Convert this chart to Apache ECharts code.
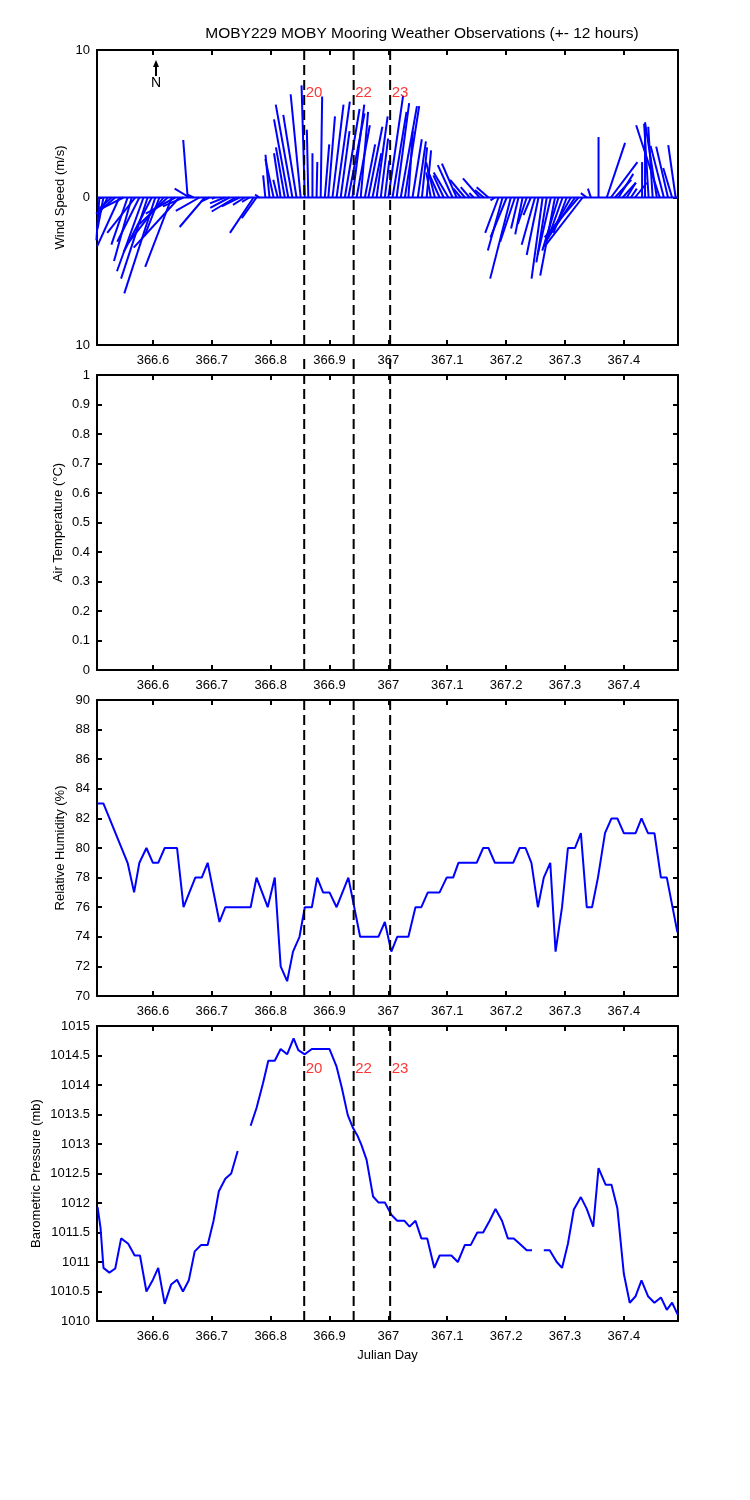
<!DOCTYPE html>
<html>
<head>
<meta charset="utf-8">
<title>MOBY229 MOBY Mooring Weather Observations</title>
<script src="https://cdn.jsdelivr.net/npm/echarts@6/dist/echarts.min.js"></script>
<style>
  html, body { margin: 0; padding: 0; background: #fff; }
  #chart { width: 750px; height: 1500px; }
</style>
</head>
<body>
<div id="chart"></div>
<script>
// wind sticks: base time (julian day), east (u) and north (v) components in m/s
var windTime = [
  366.509, 366.516, 366.523, 366.530, 366.536, 366.543, 366.550, 366.557, 366.564, 366.570,
  366.577, 366.584, 366.591, 366.598, 366.604, 366.611, 366.618, 366.625, 366.632, 366.638,
  366.645, 366.652, 366.659, 366.662, 366.669, 366.679, 366.688, 366.696, 366.705, 366.722,
  366.730, 366.740, 366.747, 366.756, 366.764, 366.771, 366.776, 366.781, 366.791, 366.798,
  366.805, 366.812, 366.817, 366.824, 366.830, 366.837, 366.844, 366.851, 366.858, 366.864,
  366.871, 366.878, 366.885, 366.892, 366.898, 366.905, 366.912, 366.919, 366.926, 366.932,
  366.939, 366.946, 366.953, 366.960, 366.966, 366.973, 366.980, 366.987, 366.994, 367.000,
  367.007, 367.014, 367.021, 367.028, 367.034, 367.041, 367.050, 367.057, 367.065, 367.072,
  367.079, 367.087, 367.094, 367.102, 367.109, 367.116, 367.123, 367.130, 367.138, 367.145,
  367.155, 367.162, 367.170, 367.181, 367.187, 367.194, 367.201, 367.208, 367.215, 367.221,
  367.228, 367.235, 367.242, 367.249, 367.255, 367.262, 367.269, 367.276, 367.283, 367.289,
  367.296, 367.303, 367.310, 367.317, 367.323, 367.330, 367.337, 367.344, 367.357, 367.371,
  367.378, 367.385, 367.391, 367.398, 367.405, 367.412, 367.419, 367.431, 367.436, 367.442,
  367.449, 367.456, 367.461, 367.468, 367.475, 367.482, 367.488
]
var windU = [
  -0.2, -0.4, -0.6, -0.9, -1.3, -1.5, -1.6, -1.1, -1.2, -1.9,
  -1.5, -1.8, -1.8, -1.9, -2.1, -1.0, -2.4, -1.9, -1.8, -2.0,
  -3.1, -1.4, -0.3, -1.0, -0.4, -1.6, -1.7, -0.6, -0.2, -1.0,
  -1.3, -1.6, -1.2, -0.8, -0.5, -1.6, -1.0, -0.3, -0.15, -0.27,
  -0.56, -0.3, -0.45, -0.6, -0.97, -1.13, -0.9, -0.68, -0.22, -0.1,
  0.0, 0.05, 0.1, 0.3, 0.45, 0.75, 0.9, 0.6, 1.0, 1.1,
  0.8, 0.9, 0.5, 0.7, 0.95, 0.6, 0.75, 0.5, 0.3, 1.0,
  0.95, 0.85, 1.1, 0.97, 0.3, 0.63, 0.55, 0.35, 0.3, -0.3,
  -0.6, -0.8, -0.7, -1.0, -1.0, -1.0, -0.5, -1.0, -0.6, -0.3,
  -1.13, -0.6, -0.8, -0.3, -0.9, -1.0, -1.1, -1.4, -1.0, -0.5,
  -0.5, -0.6, -0.5, -0.9, -0.8, -0.75, -0.7, -0.9, -1.0, -1.1,
  -1.0, -0.9, -1.4, -2.0, -2.3, -2.6, -0.4, -0.2, 0.0, 1.24,
  1.8, 1.1, 1.0, 0.9, 0.6, 0.4, 0.8, 0.0, 0.0, -0.3,
  -0.3, -0.8, -1.6, -0.9, -0.8, -0.6, -0.5
]
var windV = [
  -2.9, -2.1, -1.2, -0.8, -1.1, -3.3, -0.8, -3.2, -4.3, -2.4,
  -3.0, -5.0, -5.5, -3.7, -6.5, -2.6, -3.1, -1.8, -4.7, -1.1,
  -3.4, -0.6, 3.9, 0.6, 0.2, -0.9, -2.0, -0.3, -0.1, -0.4,
  -0.7, -0.95, -0.6, -0.5, -0.3, -2.4, -1.4, 0.2, 1.5, 2.9,
  2.6, 1.2, 3.0, 3.4, 5.3, 6.3, 5.6, 7.0, 7.6, 4.6,
  3.0, 2.4, 6.85, 3.6, 5.5, 6.3, 6.5, 4.5, 6.0, 5.7,
  6.3, 4.9, 5.8, 3.6, 4.8, 3.0, 5.5, 4.0, 2.5, 6.9,
  5.8, 6.4, 6.2, 6.2, 4.5, 3.95, 3.8, 3.4, 3.2, 1.7,
  2.4, 1.8, 1.5, 1.7, 2.2, 2.3, 0.6, 1.2, 0.7, 0.3,
  1.3, 0.5, 0.7, -0.2, -2.4, -3.6, -2.7, -5.5, -3.0, -2.1,
  -2.5, -1.8, -1.2, -3.2, -3.9, -5.5, -4.4, -3.9, -5.3, -3.6,
  -2.8, -2.4, -2.5, -3.0, -2.7, -3.35, 0.3, 0.6, 4.1, 3.7,
  2.4, 1.2, 1.6, 1.0, 1.0, 0.6, 1.0, 2.4, 5.0, 5.0,
  4.8, 5.1, 4.9, 3.5, 3.45, 2.0, 3.55
]

// relative humidity (%)
var humTime = [
  366.506, 366.516, 366.557, 366.568, 366.577, 366.589, 366.600, 366.609, 366.620, 366.641,
  366.652, 366.672, 366.683, 366.693, 366.713, 366.723, 366.766, 366.776, 366.795, 366.807,
  366.817, 366.828, 366.838, 366.849, 366.858, 366.870, 366.879, 366.889, 366.900, 366.912,
  366.932, 366.952, 366.983, 366.994, 367.005, 367.015, 367.034, 367.046, 367.056, 367.067,
  367.087, 367.099, 367.110, 367.119, 367.150, 367.161, 367.170, 367.181, 367.212, 367.223,
  367.233, 367.243, 367.254, 367.264, 367.275, 367.284, 367.295, 367.305, 367.317, 367.327,
  367.337, 367.346, 367.356, 367.368, 367.379, 367.389, 367.400, 367.420, 367.430, 367.441,
  367.452, 367.463, 367.473, 367.491
]
var humValue = [
  83, 83, 79, 77, 79, 80, 79, 79, 80, 80,
  76, 78, 78, 79, 75, 76, 76, 78, 76, 78,
  72, 71, 73, 74, 76, 76, 78, 77, 77, 76,
  78, 74, 74, 75, 73, 74, 74, 76, 76, 77,
  77, 78, 78, 79, 79, 80, 80, 79, 79, 80,
  80, 79, 76, 78, 79, 73, 76, 80, 80, 81,
  76, 76, 78, 81, 82, 82, 81, 81, 82, 81,
  81, 78, 78, 74.3
]

// barometric pressure (mb), null = missing
var presTime = [
  366.506, 366.511, 366.516, 366.526, 366.536, 366.546, 366.558, 366.569, 366.578, 366.589,
  366.600, 366.609, 366.620, 366.631, 366.641, 366.651, 366.661, 366.671, 366.682, 366.693,
  366.703, 366.712, 366.723, 366.733, 366.744, 366.755, 366.766, 366.776, 366.787, 366.796,
  366.807, 366.817, 366.828, 366.839, 366.847, 366.858, 366.870, 366.900, 366.912, 366.921,
  366.931, 366.940, 366.948, 366.954, 366.963, 366.974, 366.983, 366.994, 367.005, 367.015,
  367.027, 367.036, 367.046, 367.056, 367.066, 367.078, 367.087, 367.107, 367.118, 367.130,
  367.140, 367.151, 367.161, 367.172, 367.182, 367.193, 367.203, 367.213, 367.223, 367.235,
  367.244, 367.254, 367.264, 367.274, 367.286, 367.295, 367.305, 367.315, 367.327, 367.337,
  367.348, 367.357, 367.369, 367.379, 367.389, 367.400, 367.410, 367.420, 367.430, 367.441,
  367.452, 367.463, 367.473, 367.482, 367.492
]
var presValue = [
  1011.93, 1011.58, 1010.90, 1010.82, 1010.89, 1011.40, 1011.31, 1011.11, 1011.11, 1010.50,
  1010.70, 1010.90, 1010.29, 1010.62, 1010.70, 1010.50, 1010.69, 1011.18, 1011.29, 1011.29,
  1011.70, 1012.20, 1012.41, 1012.50, 1012.88, null, 1013.31, 1013.61, 1014.03, 1014.41,
  1014.41, 1014.61, 1014.52, 1014.79, 1014.59, 1014.52, 1014.61, 1014.61, 1014.31, 1013.95,
  1013.49, 1013.27, 1013.13, 1012.99, 1012.73, 1012.11, 1012.01, 1012.01, 1011.80, 1011.70,
  1011.70, 1011.60, 1011.70, 1011.40, 1011.40, 1010.90, 1011.11, 1011.11, 1011.00, 1011.29,
  1011.29, 1011.50, 1011.50, 1011.70, 1011.90, 1011.70, 1011.40, 1011.40, 1011.31, 1011.20,
  1011.20, null, 1011.20, 1011.20, 1011.00, 1010.90, 1011.31, 1011.89, 1012.10, 1011.90,
  1011.60, 1012.59, 1012.31, 1012.31, 1011.91, 1010.80, 1010.31, 1010.42, 1010.69, 1010.42,
  1010.31, 1010.40, 1010.19, 1010.31, 1010.10
]

// marked events (dashed lines)
var eventTimes = [366.857, 366.941, 367.003]
var eventLabels = ['20', '22', '23']

var FONT = '"Liberation Sans", Arial, Helvetica, sans-serif'
var BLUE = '#0000ff'
var X_MIN = 366.505
var X_MAX = 367.492

var panels = [
  { top: 50, height: 295, min: -10, max: 10, interval: 10, name: 'Wind Speed (m/s)', gap: 30, lineTop: 0 },
  { top: 375, height: 295, min: 0, max: 1, interval: 0.1, name: 'Air Temperature (°C)', gap: 32, lineTop: 16 },
  { top: 700, height: 296, min: 70, max: 90, interval: 2, name: 'Relative Humidity (%)', gap: 30, lineTop: 0 },
  { top: 1026, height: 295, min: 1010, max: 1015, interval: 0.5, name: 'Barometric Pressure (mb)', gap: 54, lineTop: 0 }
]

var axisLine = { show: true, onZero: false, lineStyle: { color: '#000', width: 2 } }
var axisTick = { show: true, inside: true, length: 5, lineStyle: { color: '#000', width: 2 } }

function numLabel (v) {
  return String(Math.round(v * 100) / 100)
}

var grid = []
var xAxis = []
var yAxis = []
panels.forEach(function (p, i) {
  grid.push({ left: 97, right: 72, top: p.top, height: p.height })
  // bottom + top x axes
  xAxis.push({
    type: 'value', gridIndex: i, position: 'bottom', min: X_MIN, max: X_MAX, splitNumber: 10,
    axisLine: axisLine, axisTick: axisTick, splitLine: { show: false },
    axisLabel: {
      color: '#000', fontSize: 13, fontFamily: FONT, margin: 9,
      showMinLabel: false, showMaxLabel: false, formatter: numLabel
    },
    name: i === panels.length - 1 ? 'Julian Day' : '',
    nameLocation: 'middle', nameGap: 28, nameMoveOverlap: false,
    nameTextStyle: { color: '#000', fontSize: 13, fontFamily: FONT }
  })
  xAxis.push({
    type: 'value', gridIndex: i, position: 'top', min: X_MIN, max: X_MAX, splitNumber: 10,
    axisLine: axisLine, axisTick: axisTick, splitLine: { show: false }, axisLabel: { show: false }
  })
  // left + right y axes
  yAxis.push({
    type: 'value', gridIndex: i, position: 'left', min: p.min, max: p.max, interval: p.interval,
    axisLine: axisLine, axisTick: axisTick, splitLine: { show: false },
    axisLabel: {
      color: '#000', fontSize: 13, fontFamily: FONT, margin: 7,
      formatter: i === 0 ? function (v) { return String(Math.abs(v)) } : numLabel
    },
    name: p.name, nameLocation: 'middle', nameRotate: 90, nameGap: p.gap, nameMoveOverlap: false,
    nameTextStyle: { color: '#000', fontSize: 13, fontFamily: FONT }
  })
  yAxis.push({
    type: 'value', gridIndex: i, position: 'right', min: p.min, max: p.max, interval: p.interval,
    axisLine: axisLine, axisTick: axisTick, splitLine: { show: false }, axisLabel: { show: false }
  })
})

function renderStick (params, api) {
  var base = api.coord([api.value(0), 0])
  var unit = api.size([0, 1])[1]
  return {
    type: 'line',
    shape: {
      x1: base[0],
      y1: base[1],
      x2: base[0] + api.value(1) * unit,
      y2: base[1] - api.value(2) * unit
    },
    style: { stroke: BLUE, lineWidth: 2 }
  }
}

function eventRenderer (extraTop) {
  return function (params, api) {
    var cs = params.coordSys
    var x = api.coord([api.value(0), api.value(1)])[0]
    return {
      type: 'line',
      shape: { x1: x, y1: cs.y - extraTop, x2: x, y2: cs.y + cs.height },
      style: { stroke: '#000', lineWidth: 2, lineDash: [10, 5] }
    }
  }
}

// red event numbers, drawn as labels of invisible points
function eventText (axisIndex, y) {
  return {
    type: 'scatter', xAxisIndex: axisIndex, yAxisIndex: axisIndex,
    symbolSize: 1, itemStyle: { color: 'rgba(0,0,0,0)' }, z: 5,
    label: {
      show: true, position: 'right', distance: 1,
      color: '#ff0000', fontSize: 15, fontFamily: FONT,
      formatter: function (d) { return d.name }
    },
    data: eventTimes.map(function (t, k) { return { name: eventLabels[k], value: [t, y] } })
  }
}

var series = [
  {
    type: 'line', xAxisIndex: 0, yAxisIndex: 0, showSymbol: false,
    lineStyle: { color: BLUE, width: 2 },
    data: [[X_MIN, 0], [X_MAX, 0]]
  },
  {
    type: 'custom', xAxisIndex: 0, yAxisIndex: 0, renderItem: renderStick,
    encode: { x: 0, y: 2 },
    data: windTime.map(function (t, k) { return [t, windU[k], windV[k]] })
  },
  {
    type: 'line', xAxisIndex: 4, yAxisIndex: 4, showSymbol: false,
    lineStyle: { color: BLUE, width: 2 },
    data: humTime.map(function (t, k) { return [t, humValue[k]] })
  },
  {
    type: 'line', xAxisIndex: 6, yAxisIndex: 6, showSymbol: false, connectNulls: false,
    lineStyle: { color: BLUE, width: 2 },
    data: presTime.map(function (t, k) { return [t, presValue[k]] })
  }
]

panels.forEach(function (p, i) {
  series.push({
    type: 'custom', xAxisIndex: i * 2, yAxisIndex: i * 2, z: 4, clip: false,
    renderItem: eventRenderer(p.lineTop),
    encode: { x: 0, y: 1 },
    data: eventTimes.map(function (t) { return [t, p.min] })
  })
})
series.push(eventText(0, 7.1))
series.push(eventText(6, 1014.27))

var option = {
  animation: false,
  backgroundColor: '#fff',
  grid: grid,
  xAxis: xAxis,
  yAxis: yAxis,
  graphic: [
    {
      type: 'text', x: 422, y: 34,
      style: {
        text: 'MOBY229 MOBY Mooring Weather Observations (+- 12 hours)',
        font: '15.5px ' + FONT, fill: '#000', align: 'center', verticalAlign: 'middle'
      }
    },
    // north arrow
    { type: 'line', shape: { x1: 156, y1: 66, x2: 156, y2: 76 }, style: { stroke: '#000', lineWidth: 2 } },
    { type: 'polygon', shape: { points: [[156, 60], [153, 67], [159, 67]] }, style: { fill: '#000' } },
    {
      type: 'text', x: 156, y: 83,
      style: { text: 'N', font: '14px ' + FONT, fill: '#000', align: 'center', verticalAlign: 'middle' }
    }
  ],
  series: series
}

var chart = echarts.init(document.getElementById('chart'))
chart.setOption(option)
</script>
</body>
</html>
